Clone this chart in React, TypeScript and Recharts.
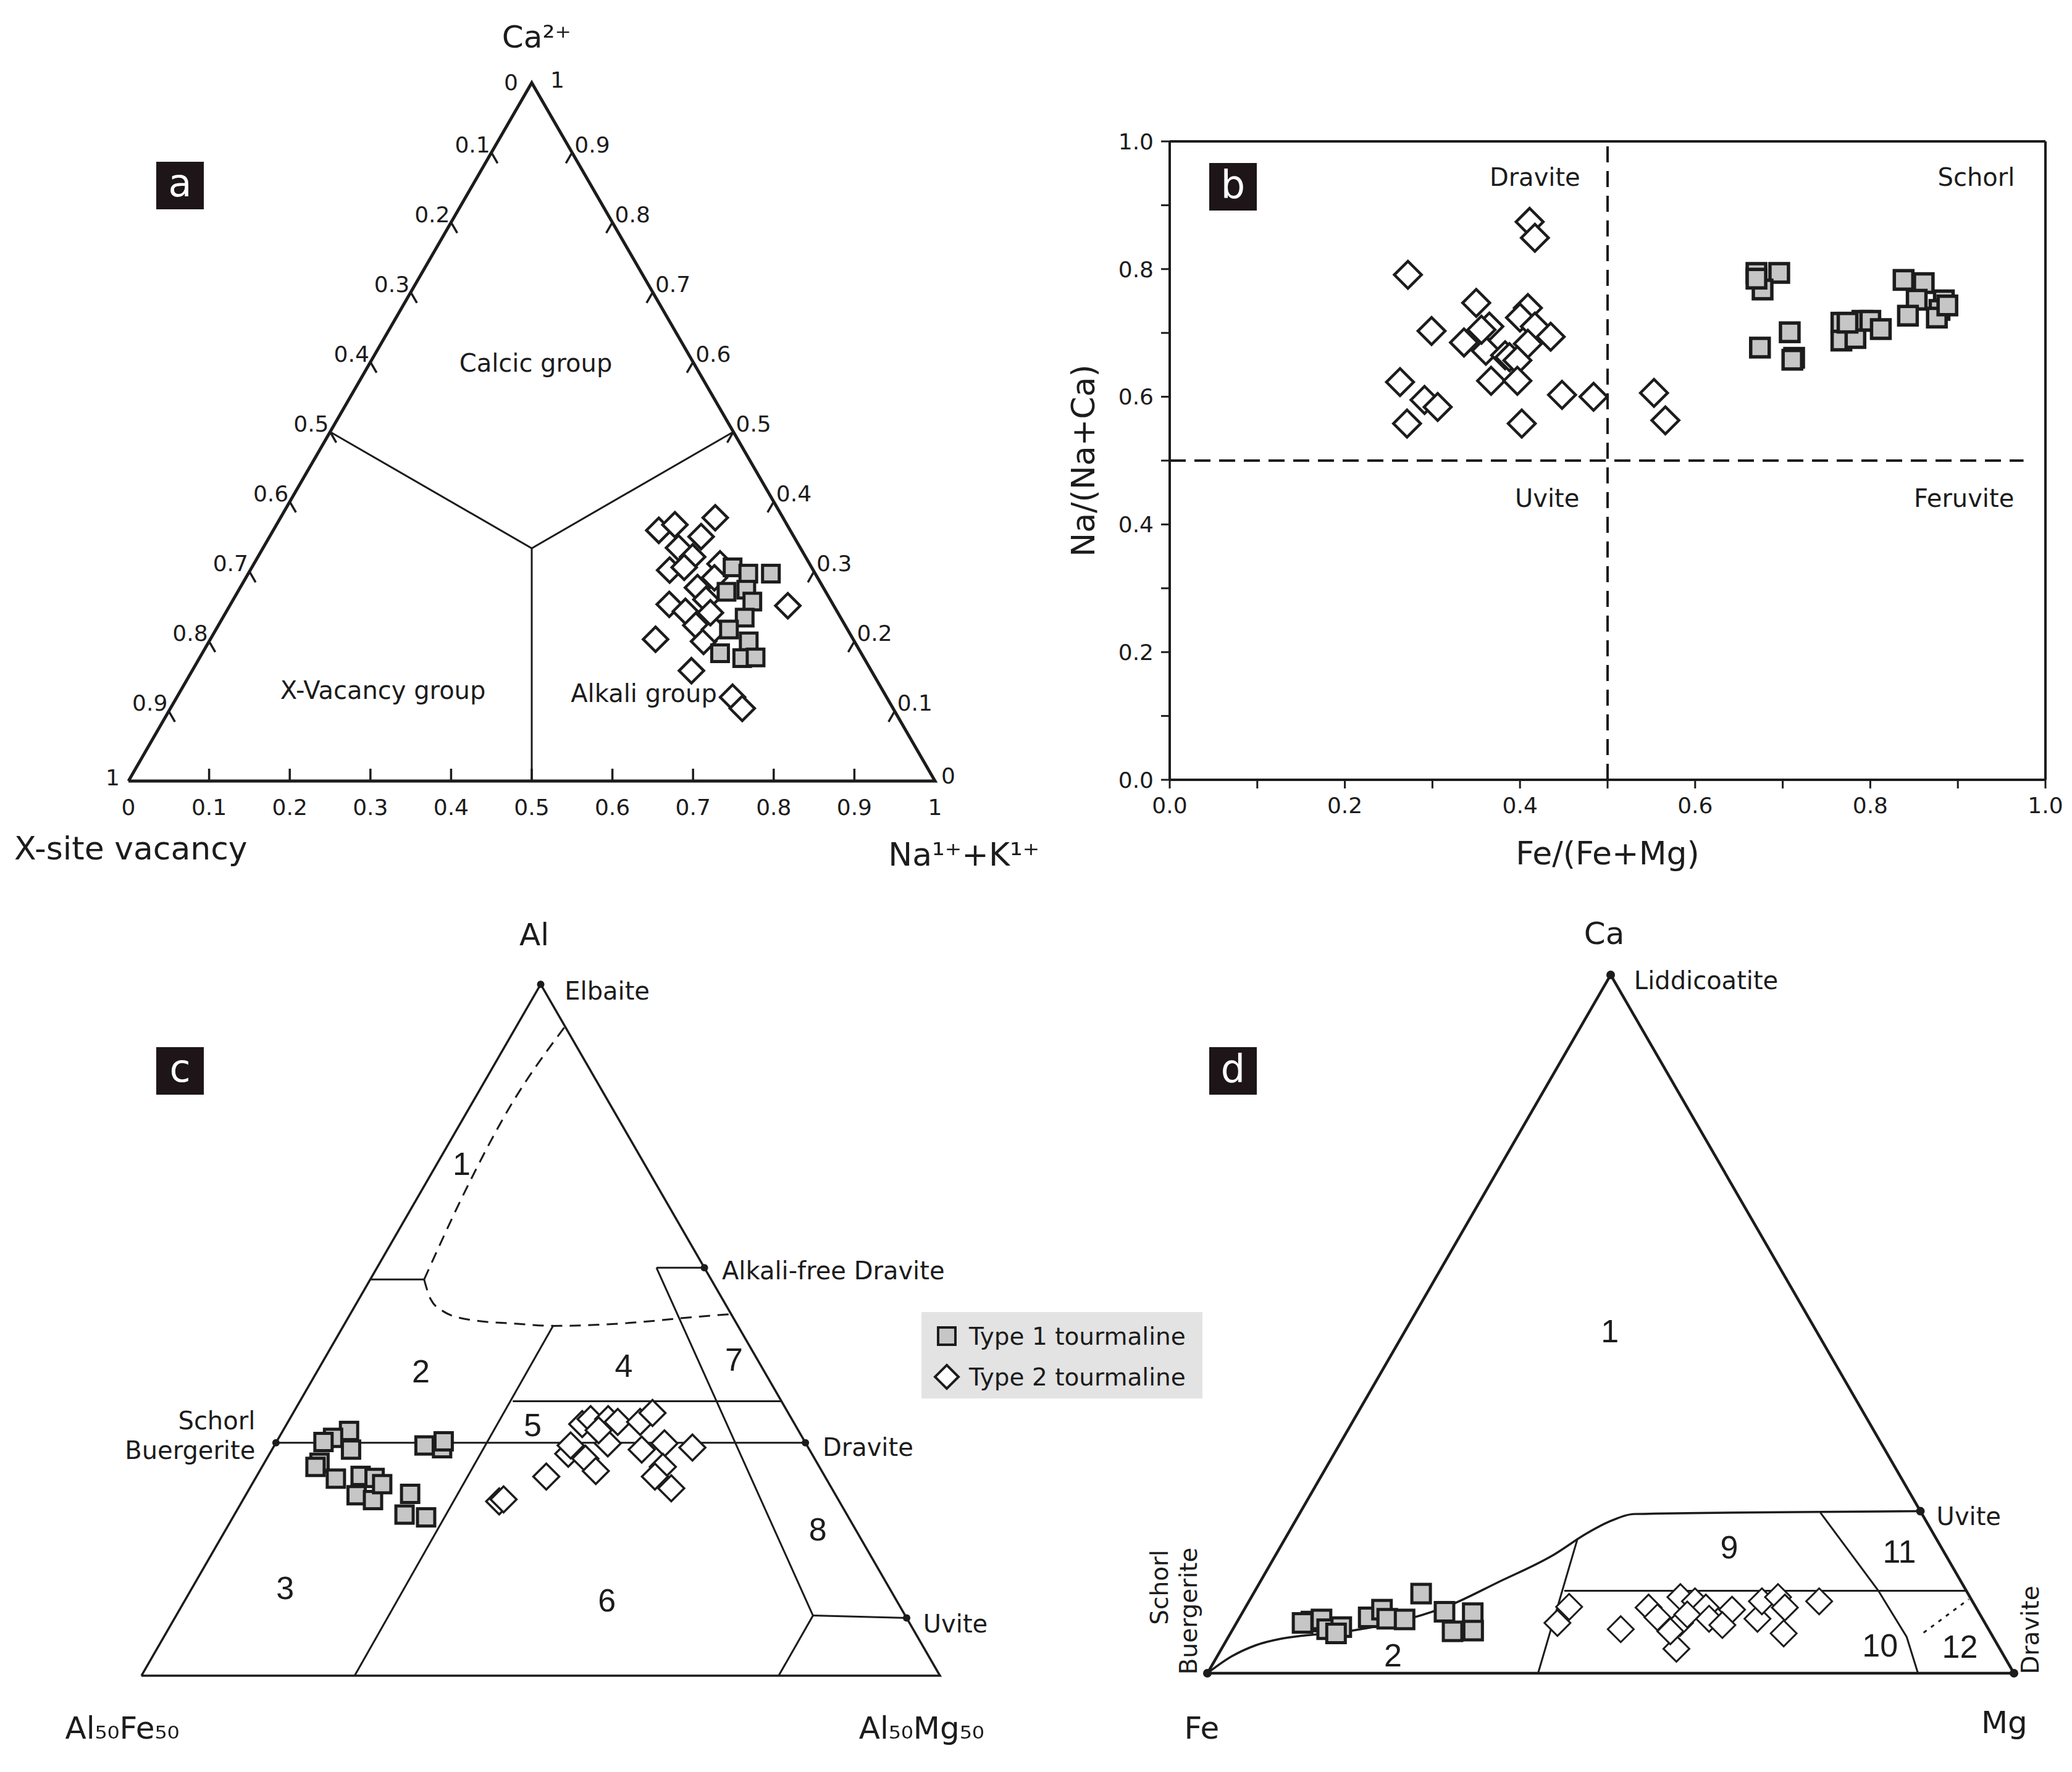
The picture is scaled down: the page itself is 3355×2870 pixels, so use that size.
import React from "react";
import { ScatterChart, Scatter, XAxis, YAxis, ReferenceLine, Legend } from "recharts";

const SQ = Math.sqrt(3) / 2;
const FONT = "'DejaVu Sans', 'Liberation Sans', Arial, sans-serif";
const NARROW = "'Liberation Sans Narrow', 'Liberation Sans', Arial, sans-serif";
const INK = "#1c1c1c";
const GREY = "#c6c6c6";

// ---- a: X-site occupancy (Ca / Na+K / vacancy) ----
const aType1Ca = [0.306, 0.297, 0.297, 0.271, 0.274, 0.257, 0.234, 0.217, 0.2, 0.183, 0.176, 0.177];
const aType1Na = [0.596, 0.62, 0.648, 0.606, 0.629, 0.645, 0.647, 0.636, 0.669, 0.642, 0.673, 0.689];
const aType2Ca = [0.359, 0.367, 0.377, 0.35, 0.334, 0.321, 0.302, 0.306, 0.311, 0.277, 0.291, 0.253, 0.243, 0.26, 0.223, 0.2, 0.217, 0.203, 0.158, 0.12, 0.104, 0.251, 0.241];
const aType2Na = [0.478, 0.494, 0.539, 0.535, 0.515, 0.539, 0.52, 0.536, 0.578, 0.567, 0.581, 0.544, 0.569, 0.586, 0.592, 0.613, 0.618, 0.552, 0.619, 0.689, 0.709, 0.692, 0.601];
const aTicks = [0.1, 0.2, 0.3, 0.4, 0.5, 0.6, 0.7, 0.8, 0.9];
const aAxisValues = [0, 0.1, 0.2, 0.3, 0.4, 0.5, 0.6, 0.7, 0.8, 0.9, 1];

// ---- b: Fe/(Fe+Mg) vs Na/(Na+Ca) ----
const bType1Fe = [0.67, 0.696, 0.677, 0.67, 0.708, 0.674, 0.713, 0.711, 0.767, 0.767, 0.783, 0.791, 0.8, 0.812, 0.838, 0.861, 0.853, 0.843, 0.884, 0.879, 0.876, 0.888, 0.774];
const bType1Na = [0.794, 0.794, 0.768, 0.785, 0.701, 0.677, 0.661, 0.658, 0.716, 0.688, 0.692, 0.719, 0.719, 0.706, 0.783, 0.778, 0.752, 0.727, 0.751, 0.736, 0.724, 0.743, 0.716];
const bType2Fe = [0.411, 0.417, 0.272, 0.35, 0.299, 0.409, 0.4, 0.365, 0.417, 0.435, 0.336, 0.361, 0.409, 0.383, 0.388, 0.397, 0.367, 0.397, 0.263, 0.291, 0.306, 0.271, 0.402, 0.448, 0.484, 0.553, 0.566, 0.356];
const bType2Na = [0.874, 0.849, 0.791, 0.747, 0.703, 0.739, 0.724, 0.71, 0.71, 0.694, 0.685, 0.672, 0.683, 0.665, 0.662, 0.657, 0.625, 0.625, 0.623, 0.595, 0.584, 0.558, 0.558, 0.603, 0.6, 0.606, 0.563, 0.705];
const bTicks = [0, 0.1, 0.2, 0.3, 0.4, 0.5, 0.6, 0.7, 0.8, 0.9, 1];

// ---- c: Al - Al50Fe50 - Al50Mg50 ----
const cType1Al = [0.354, 0.344, 0.338, 0.327, 0.308, 0.302, 0.285, 0.289, 0.286, 0.261, 0.254, 0.277, 0.263, 0.233, 0.229, 0.333, 0.329, 0.339];
const cType1Mg = [0.083, 0.068, 0.059, 0.099, 0.069, 0.067, 0.101, 0.13, 0.149, 0.139, 0.163, 0.163, 0.205, 0.213, 0.242, 0.188, 0.212, 0.209];
const cType2Al = [0.252, 0.255, 0.288, 0.321, 0.364, 0.371, 0.371, 0.314, 0.296, 0.336, 0.367, 0.367, 0.38, 0.327, 0.336, 0.33, 0.302, 0.288, 0.271, 0.355, 0.333];
const cType2Mg = [0.322, 0.326, 0.363, 0.374, 0.37, 0.377, 0.399, 0.399, 0.421, 0.416, 0.413, 0.441, 0.45, 0.463, 0.487, 0.525, 0.502, 0.499, 0.528, 0.395, 0.371];

// ---- d: Ca - Fe - Mg ----
const dType1Ca = [0.074, 0.077, 0.063, 0.066, 0.08, 0.091, 0.078, 0.077, 0.114, 0.088, 0.086, 0.06, 0.061, 0.057, 0.072];
const dType1Mg = [0.092, 0.103, 0.117, 0.133, 0.16, 0.171, 0.184, 0.206, 0.208, 0.25, 0.286, 0.274, 0.299, 0.131, 0.082];
const dType2Ca = [0.095, 0.072, 0.063, 0.094, 0.08, 0.109, 0.072, 0.035, 0.103, 0.094, 0.078, 0.091, 0.069, 0.078, 0.103, 0.109, 0.094, 0.057, 0.103, 0.084, 0.06];
const dType2Mg = [0.401, 0.398, 0.481, 0.5, 0.518, 0.532, 0.55, 0.564, 0.553, 0.571, 0.583, 0.605, 0.604, 0.643, 0.636, 0.653, 0.669, 0.686, 0.707, 0.553, 0.544];

// field boundaries as [top, right] compositions
const triangle = [[0, 0], [0, 1], [1, 0], [0, 0]];
const aFields = [
  [[0.5, 0], [1 / 3, 1 / 3], [0.5, 0.5]],
  [[1 / 3, 1 / 3], [0, 0.5]],
];
const cFields = [
  [[0.337, 0], [0.337, 0.663]],
  [[0.397, 0.2665], [0.397, 0.603]],
  [[0.507, 0.2625], [0, 0.267]],
  [[0.59, 0.35], [0.59, 0.41]],
  [[0.59, 0.35], [0.087, 0.7975], [0, 0.798]],
  [[0.087, 0.7975], [0.0835, 0.9165]],
  [[0.573, 0], [0.573, 0.0675]],
];
const cDashed = [
  [[0.573, 0.0675], [0.545, 0.0895], [0.527, 0.1145], [0.515, 0.1525], [0.509, 0.2155], [0.506, 0.263], [0.511, 0.3645], [0.517, 0.4165], [0.523, 0.477]],
  [[0.573, 0.0675], [0.7, 0.055], [0.82, 0.05], [0.939, 0.061]],
];
const dCurve = [[0, 0], [0.024, 0.018], [0.04, 0.04], [0.049, 0.0655], [0.054, 0.093], [0.058, 0.131], [0.065, 0.1675], [0.078, 0.211], [0.097, 0.2515], [0.13, 0.295], [0.17, 0.345], [0.2, 0.37], [0.218, 0.391], [0.228, 0.416], [0.232, 0.768]];
const dFields = [
  [[0.193, 0.3625], [0, 0.41]],
  [[0.118, 0.3835], [0.118, 0.882]],
  [[0.23, 0.645], [0.118, 0.773], [0.052, 0.841], [0, 0.881]],
];
const dDotted = [[0.058, 0.859], [0.106, 0.891]];

type Pt = { x: number; y: number };
type Note = Pt & { text: string; anchor?: string; size?: number; rotate?: number; family?: string };

const tern = (top: number, right: number): Pt => ({ x: right + top / 2, y: top * SQ });
const pairs = (tops: number[], rights: number[]) => tops.map((t, i) => tern(t, rights[i]));
const path = (p: number[][]) => p.map(([t, r]) => tern(t, r));
const at = (xf: number, h: number) => ({ x: xf, y: h * SQ });

const Blank = () => <g />;
const NoteShape = (p: any) => {
  const n = p.payload as Note;
  return (
    <text
      x={p.cx}
      y={p.cy}
      textAnchor={n.anchor ?? "middle"}
      dominantBaseline="central"
      fontSize={n.size ?? 40}
      fontFamily={n.family ?? FONT}
      fill={INK}
      transform={n.rotate ? `rotate(${n.rotate} ${p.cx} ${p.cy})` : undefined}
    >
      {n.text}
    </text>
  );
};
const square = (s: number, sw: number) => (p: any) => (
  <rect x={p.cx - s / 2} y={p.cy - s / 2} width={s} height={s} fill={GREY} stroke={INK} strokeWidth={sw} />
);
const diamond = (r: number, sw: number) => (p: any) => (
  <polygon
    points={`${p.cx},${p.cy - r} ${p.cx + r},${p.cy} ${p.cx},${p.cy + r} ${p.cx - r},${p.cy}`}
    fill="#fff"
    stroke={INK}
    strokeWidth={sw}
  />
);
const dot = (r: number) => (p: any) => <circle cx={p.cx} cy={p.cy} r={r} fill={INK} />;

function lineSeries(key: string, pts: Pt[], width: number, dash?: string, smooth?: boolean) {
  return (
    <Scatter
      key={key}
      data={pts}
      shape={Blank}
      legendType="none"
      isAnimationActive={false}
      line={{ stroke: INK, strokeWidth: width, strokeDasharray: dash, fill: "none" }}
      lineJointType={smooth ? "monotoneX" : "linear"}
    />
  );
}
const noteSeries = (key: string, notes: Note[]) => (
  <Scatter key={key} data={notes} shape={NoteShape} legendType="none" isAnimationActive={false} />
);

function Ternary({ left, top, width, height, ox, oy, side, children }: any) {
  const xd = [(left - ox) / side, (left + width - ox) / side];
  const yd = [(oy - top - height) / side, (oy - top) / side];
  return (
    <div style={{ position: "absolute", left, top }}>
      <ScatterChart width={width} height={height} margin={{ top: 0, right: 0, bottom: 0, left: 0 }}>
        <XAxis type="number" dataKey="x" domain={xd} hide />
        <YAxis type="number" dataKey="y" domain={yd} hide />
        {children}
      </ScatterChart>
    </div>
  );
}

const PanelTag = ({ letter, left, top }: { letter: string; left: number; top: number }) => (
  <div
    style={{
      position: "absolute",
      left,
      top,
      width: 77,
      height: 77,
      background: "#1d1517",
      color: "#fff",
      fontFamily: FONT,
      fontSize: 62,
      lineHeight: "70px",
      textAlign: "center",
    }}
  >
    {letter}
  </div>
);

const fmt = (v: number) => String(Math.round(v * 10) / 10);

function PanelA() {
  const side = 1306;
  const u = 1 / side;
  const tl = 20 * u;
  const ticks = aTicks.flatMap((v) => {
    const l = tern(1 - v, 0);
    const r = tern(v, 1 - v);
    return [
      [{ x: v, y: 0 }, { x: v, y: tl }],
      [l, { x: l.x + 0.5 * tl, y: l.y - SQ * tl }],
      [r, { x: r.x - 0.5 * tl, y: r.y - SQ * tl }],
    ];
  });
  const tickNotes: Note[] = [
    ...aAxisValues.map((v) => ({ x: v, y: -42 * u, text: fmt(v), size: 36 })),
    ...aTicks.map((v) => {
      const l = tern(1 - v, 0);
      return { x: l.x - 2 * u, y: l.y + 13 * u, text: fmt(v), anchor: "end", size: 36 };
    }),
    ...aTicks.map((v) => {
      const r = tern(v, 1 - v);
      return { x: r.x + 4 * u, y: r.y + 13 * u, text: fmt(v), anchor: "start", size: 36 };
    }),
    { x: 0.5 - 22 * u, y: SQ, text: "0", anchor: "end", size: 36 },
    { x: 0.5 + 30 * u, y: SQ + 4 * u, text: "1", anchor: "start", size: 36 },
    { x: -14 * u, y: 6 * u, text: "1", anchor: "end", size: 36 },
    { x: 1 + 10 * u, y: 9 * u, text: "0", anchor: "start", size: 36 },
  ];
  const notes: Note[] = [
    { ...at(0.506, 1.065), text: "Ca²⁺", size: 50 },
    { ...at(-0.1417, -0.0964), text: "X-site vacancy", anchor: "start", size: 52 },
    { ...at(0.942, -0.105), text: "Na¹⁺+K¹⁺", anchor: "start", size: 52 },
    { ...at(0.505, 0.599), text: "Calcic group", size: 40 },
    { ...at(0.3155, 0.13), text: "X-Vacancy group", size: 40 },
    { ...at(0.639, 0.1255), text: "Alkali group", size: 40 },
  ];
  return (
    <Ternary left={0} top={0} width={1700} height={1440} ox={208} oy={1265} side={side}>
      {aFields.map((f, i) => lineSeries(`af${i}`, path(f), 3))}
      {ticks.map((t, i) => lineSeries(`at${i}`, t, 3.5))}
      {lineSeries("atri", path(triangle), 5)}
      {noteSeries("atk", tickNotes)}
      {noteSeries("anotes", notes)}
      <Scatter name="Type 2 tourmaline" data={pairs(aType2Ca, aType2Na)} shape={diamond(20, 4.5)} isAnimationActive={false} />
      <Scatter name="Type 1 tourmaline" data={pairs(aType1Ca, aType1Na)} shape={square(27, 5)} isAnimationActive={false} />
    </Ternary>
  );
}

const majorOnly = (v: number) => (Math.round(v * 10) % 2 === 0 ? v.toFixed(1) : "");

function PanelB() {
  const t1 = bType1Fe.map((x, i) => ({ x, y: bType1Na[i] }));
  const t2 = bType2Fe.map((x, i) => ({ x, y: bType2Na[i] }));
  const fields: Note[] = [
    { x: 0.417, y: 0.944, text: "Dravite" },
    { x: 0.921, y: 0.944, text: "Schorl" },
    { x: 0.431, y: 0.441, text: "Uvite" },
    { x: 0.907, y: 0.441, text: "Feruvite" },
  ];
  const axisText = { fill: INK, fontSize: 36, fontFamily: FONT };
  return (
    <div style={{ position: "absolute", left: 1700, top: 0 }}>
      <ScatterChart width={1655} height={1450} margin={{ top: 229, right: 43, bottom: 87, left: 64 }}>
        <XAxis
          type="number"
          dataKey="x"
          domain={[0, 1]}
          ticks={bTicks}
          interval={0}
          tickFormatter={majorOnly}
          height={100}
          tickSize={14}
          tickMargin={14}
          axisLine={{ stroke: INK, strokeWidth: 4 }}
          tickLine={{ stroke: INK, strokeWidth: 3 }}
          tick={axisText}
          label={{ value: "Fe/(Fe+Mg)", position: "bottom", offset: 0, fontSize: 52, fontFamily: FONT, fill: INK }}
        />
        <YAxis
          type="number"
          dataKey="y"
          domain={[0, 1]}
          ticks={bTicks}
          interval={0}
          tickFormatter={majorOnly}
          width={130}
          tickSize={14}
          tickMargin={12}
          axisLine={{ stroke: INK, strokeWidth: 4 }}
          tickLine={{ stroke: INK, strokeWidth: 3 }}
          tick={axisText}
          label={{
            value: "Na/(Na+Ca)",
            angle: -90,
            position: "insideLeft",
            offset: -10,
            fontSize: 52,
            fontFamily: FONT,
            fill: INK,
            style: { textAnchor: "middle" },
          }}
        />
        <ReferenceLine y={1} stroke={INK} strokeWidth={4} />
        <ReferenceLine x={1} stroke={INK} strokeWidth={4} />
        <ReferenceLine x={0.5} stroke={INK} strokeWidth={4} strokeDasharray="26 14" />
        <ReferenceLine segment={[{ x: 0, y: 0.5 }, { x: 0.975, y: 0.5 }]} stroke={INK} strokeWidth={4} strokeDasharray="26 14" />
        {noteSeries("bfields", fields)}
        <Scatter name="Type 2 tourmaline" data={t2} shape={diamond(22, 4.5)} isAnimationActive={false} />
        <Scatter name="Type 1 tourmaline" data={t1} shape={square(30, 5.5)} isAnimationActive={false} />
      </ScatterChart>
    </div>
  );
}

const LegendBox = (props: any) => {
  const items = (props.payload ?? []).filter((e: any) => e.type === "square" || e.type === "diamond");
  return (
    <div style={{ width: 455, height: 140, background: "#e3e3e3", paddingTop: 6, boxSizing: "border-box" }}>
      {items.map((e: any) => (
        <div key={e.value} style={{ display: "flex", alignItems: "center", height: 66 }}>
          <svg width={77} height={60}>
            {e.type === "square" ? (
              <rect x={27} y={16} width={28} height={28} fill={GREY} stroke={INK} strokeWidth={4} />
            ) : (
              <polygon points="41,11 60,30 41,49 22,30" fill="#fff" stroke={INK} strokeWidth={4} />
            )}
          </svg>
          <span style={{ fontFamily: FONT, fontSize: 39, color: INK }}>{e.value}</span>
        </div>
      ))}
    </div>
  );
};

function PanelC() {
  const side = 1293;
  const nums: Note[] = [
    ["1", 0.401, 0.74], ["2", 0.35, 0.44], ["3", 0.18, 0.127], ["4", 0.604, 0.448],
    ["5", 0.49, 0.363], ["6", 0.583, 0.109], ["7", 0.742, 0.457], ["8", 0.847, 0.212],
  ].map(([t, xf, h]) => ({ ...at(xf as number, h as number), text: t as string, size: 52, family: NARROW }));
  const notes: Note[] = [
    { ...at(0.492, 1.072), text: "Al", size: 50 },
    { ...at(-0.024, -0.076), text: "Al₅₀Fe₅₀", size: 50 },
    { ...at(0.977, -0.076), text: "Al₅₀Mg₅₀", size: 50 },
    { ...at(0.53, 0.99), text: "Elbaite", anchor: "start" },
    { ...at(0.727, 0.586), text: "Alkali-free Dravite", anchor: "start" },
    { ...at(0.1425, 0.369), text: "Schorl", anchor: "end" },
    { ...at(0.1425, 0.326), text: "Buergerite", anchor: "end" },
    { ...at(0.853, 0.33), text: "Dravite", anchor: "start" },
    { ...at(0.979, 0.0746), text: "Uvite", anchor: "start" },
  ];
  const vertices = path([[1, 0], [0.337, 0], [0.337, 0.663], [0.59, 0.41], [0.0835, 0.9165]]);
  return (
    <Ternary left={0} top={1440} width={1700} height={1430} ox={229} oy={2714} side={side}>
      {lineSeries("ctri", path(triangle), 3.5)}
      {cFields.map((f, i) => lineSeries(`cf${i}`, path(f), 3))}
      {cDashed.map((f, i) => lineSeries(`cd${i}`, path(f), 3, "18 12", true))}
      <Scatter data={vertices} shape={dot(6)} legendType="none" isAnimationActive={false} />
      {noteSeries("cnums", nums)}
      {noteSeries("cnotes", notes)}
      <Scatter name="Type 1 tourmaline" legendType="square" data={pairs(cType1Al, cType1Mg)} shape={square(28, 5)} isAnimationActive={false} />
      <Scatter name="Type 2 tourmaline" legendType="diamond" data={pairs(cType2Al, cType2Mg)} shape={diamond(21, 3.5)} isAnimationActive={false} />
      <Legend layout="vertical" align="center" verticalAlign="middle" content={LegendBox} wrapperStyle={{ left: 1492, top: 685, width: 455 }} />
    </Ternary>
  );
}

function PanelD() {
  const side = 1306;
  const nums: Note[] = [
    ["1", 0.499, 0.49], ["9", 0.647, 0.18], ["11", 0.858, 0.174],
    ["2", 0.23, 0.026], ["10", 0.834, 0.04], ["12", 0.933, 0.038],
  ].map(([t, xf, h]) => ({ ...at(xf as number, h as number), text: t as string, size: 52, family: NARROW }));
  const notes: Note[] = [
    { ...at(0.492, 1.059), text: "Ca", size: 50 },
    { ...at(-0.007, -0.079), text: "Fe", size: 50 },
    { ...at(0.988, -0.071), text: "Mg", size: 50 },
    { ...at(0.529, 0.992), text: "Liddicoatite", anchor: "start" },
    { ...at(0.904, 0.2245), text: "Uvite", anchor: "start" },
    { ...at(-0.059, 0.123), text: "Schorl", rotate: -90, size: 39 },
    { ...at(-0.023, 0.089), text: "Buergerite", rotate: -90, size: 39 },
    { ...at(1.02, 0.062), text: "Dravite", rotate: -90, size: 39 },
  ];
  const vertices = path([[1, 0], [0.232, 0.768], [0, 0], [0, 1]]);
  return (
    <Ternary left={1700} top={1440} width={1655} height={1430} ox={1955} oy={2710} side={side}>
      {lineSeries("dtri", path(triangle), 4.5)}
      {lineSeries("dcurve", path(dCurve), 3.5, undefined, true)}
      {dFields.map((f, i) => lineSeries(`df${i}`, path(f), 3))}
      {lineSeries("ddot", path(dDotted), 3, "6 9")}
      <Scatter data={vertices} shape={dot(7)} legendType="none" isAnimationActive={false} />
      {noteSeries("dnums", nums)}
      {noteSeries("dnotes", notes)}
      <Scatter name="Type 1 tourmaline" data={pairs(dType1Ca, dType1Mg)} shape={square(30, 5)} isAnimationActive={false} />
      <Scatter name="Type 2 tourmaline" data={pairs(dType2Ca, dType2Mg)} shape={diamond(21, 3)} isAnimationActive={false} />
    </Ternary>
  );
}

export default function App() {
  return (
    <div style={{ position: "absolute", left: 0, top: 0, width: 3355, height: 2870, background: "#fff", overflow: "hidden" }}>
      <PanelA />
      <PanelB />
      <PanelC />
      <PanelD />
      <PanelTag letter="a" left={253} top={262} />
      <PanelTag letter="b" left={1958} top={264} />
      <PanelTag letter="c" left={253} top={1696} />
      <PanelTag letter="d" left={1958} top={1696} />
    </div>
  );
}
